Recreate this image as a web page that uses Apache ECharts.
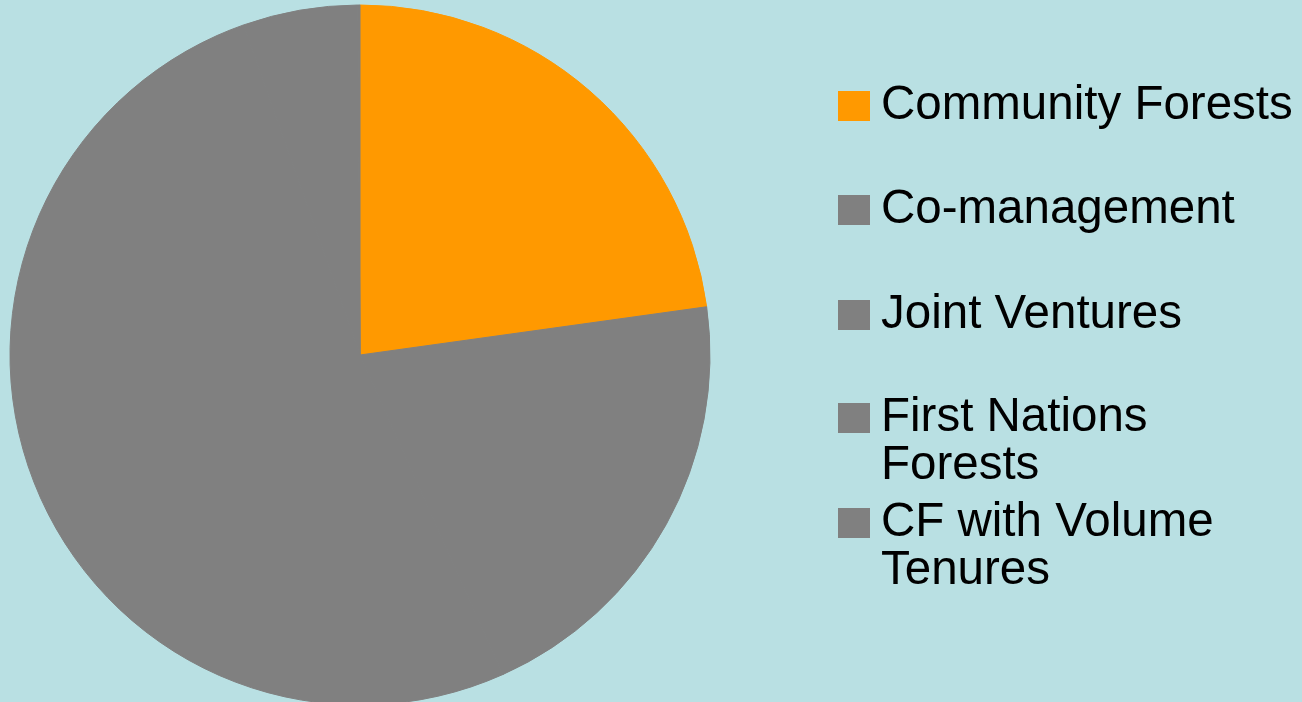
<!DOCTYPE html>
<html>
<head>
<meta charset="utf-8">
<script src="https://cdn.jsdelivr.net/npm/echarts@6/dist/echarts.min.js"></script>
<style>
html,body{margin:0;padding:0;background:#B9E0E3;}
#chart{width:1302px;height:702px;}
</style>
</head>
<body>
<div id="chart"></div>
<script>
const categories = ['Community Forests', 'Co-management', 'Joint Ventures', 'First Nations Forests', 'CF with Volume Tenures'];
const values = [22.8, 20.5, 51.3, 5.3, 0.1];
const sliceColors = ['#FF9900', '#808080', '#808080', '#808080', '#808080'];
const legendLabels = ['Community Forests', 'Co-management', 'Joint Ventures', '\nFirst Nations\nForests', '\nCF with Volume\nTenures'];
const legendTops = [82, 186, 291, 346, 451];

const chart = echarts.init(document.getElementById('chart'), null, {renderer: 'canvas'});
const legends = categories.map((name, i) => ({
  orient: 'vertical',
  left: 838,
  top: legendTops[i],
  padding: 0,
  itemWidth: 32,
  itemHeight: 30,
  icon: 'rect',
  itemStyle: {borderWidth: 0},
  selectedMode: true,
  data: [name],
  formatter: () => legendLabels[i],
  textStyle: {
    fontFamily: 'Liberation Sans, Arial, sans-serif',
    fontSize: 47.5,
    lineHeight: 48,
    color: '#000',
    padding: [0, 0, 0, 6]
  }
}));

chart.setOption({
  backgroundColor: '#B9E0E3',
  animation: false,
  legend: legends,
  series: [{
    type: 'pie',
    center: [360, 355],
    radius: [0, 350],
    startAngle: 90,
    clockwise: true,
    label: {show: false},
    labelLine: {show: false},
    emphasis: {scale: false},
    data: categories.map((name, i) => ({
      name: name,
      value: values[i],
      itemStyle: {color: sliceColors[i], borderColor: sliceColors[i], borderWidth: 1}
    }))
  }]
});
</script>
</body>
</html>
